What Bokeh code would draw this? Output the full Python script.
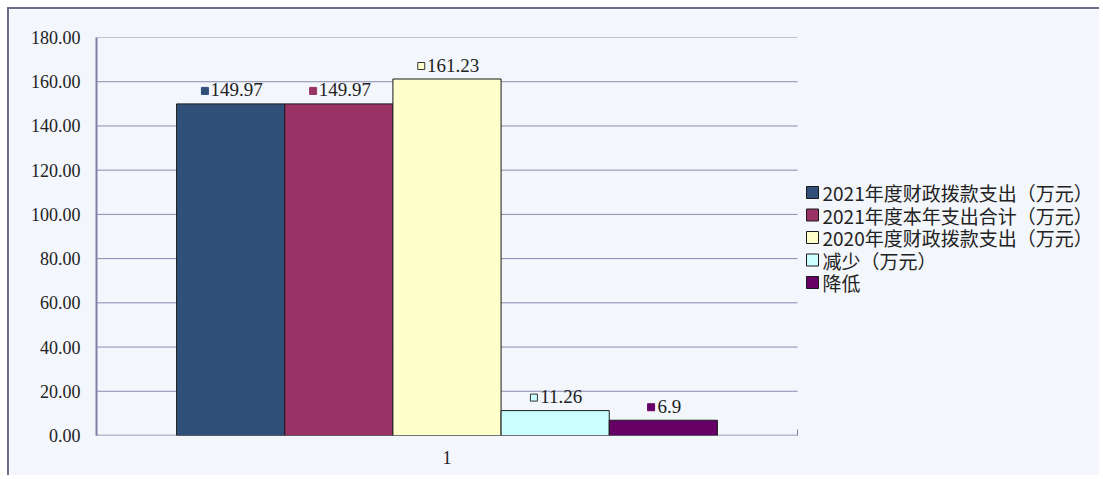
from bokeh.plotting import figure
from bokeh.models import Range1d, FixedTicker, ColumnDataSource
from bokeh.core.properties import value
from bokeh.embed import file_html
from bokeh.resources import INLINE

# ---- data ----
series = ["2021年度财政拨款支出（万元）", "2021年度本年支出合计（万元）",
          "2020年度财政拨款支出（万元）", "减少（万元）", "降低"]
values = [149.97, 149.97, 161.23, 11.26, 6.9]
value_labels = ["149.97", "149.97", "161.23", "11.26", "6.9"]
category = "1"
y_ticks = [0, 20, 40, 60, 80, 100, 120, 140, 160, 180]
y_tick_labels = ["0.00", "20.00", "40.00", "60.00", "80.00", "100.00",
                 "120.00", "140.00", "160.00", "180.00"]

# ---- styles ----
colors = ["#30507A", "#993366", "#FFFFCC", "#CCFFFF", "#660066"]
marker_lines = ["#30507A", "#993366", "#333333", "#333333", "#660066"]
BG = "#F3F6FB"
AX = "#7E7EA6"
GRID = "#8A8AB2"
W, H = 1092, 468
LEFT, TOP, BOTTOM = 87, 28, 42
CAT_W, FRAME_H = 701, 398          # pixel width of the category band, plot height
Y_MAX = 180
X_MAX = (W - LEFT) / CAT_W         # frame extends under the legend area
bar_w = 0.1543
SERIF = "Liberation Serif"
CJK = "Noto Sans CJK SC"

# legend placement (pixels from frame left / frame bottom)
LEG_SQ_X, LEG_TXT_X = 716, 726
LEG_FIRST_Y, LEG_PITCH = 243, 22.5

n = len(values)
centers = [0.5 + (i - (n - 1) / 2) * bar_w for i in range(n)]

def text_px(s):
    return sum(4.5 if c == "." else 9 for c in s)

px_y = Y_MAX / FRAME_H
marker_x = [c + (7 - text_px(t) / 2 - 8) / CAT_W for c, t in zip(centers, value_labels)]
marker_y = [v + 13 * px_y for v in values]
label_y = [v + 14 * px_y for v in values]

src = ColumnDataSource(dict(x=centers, top=values, color=colors, label=value_labels,
                            ly=label_y, mx=marker_x, my=marker_y, mline=marker_lines))

leg_y = [(LEG_FIRST_Y - i * LEG_PITCH) * px_y for i in range(len(series))]
leg_src = ColumnDataSource(dict(sx=[LEG_SQ_X / CAT_W] * len(series),
                                tx=[LEG_TXT_X / CAT_W] * len(series),
                                y=leg_y, label=series, color=colors))

p = figure(width=W, height=H, x_range=Range1d(0, X_MAX), y_range=Range1d(0, Y_MAX),
           output_backend="svg", toolbar_location=None,
           min_border_left=LEFT, min_border_right=0, min_border_top=TOP, min_border_bottom=BOTTOM,
           background_fill_color=BG, border_fill_color=BG, outline_line_color=None,
           styles={"border-left": "2px solid #6B6B8B", "border-top": "2px solid #6B6B8B",
                   "margin-left": "7px", "margin-top": "7px"})

# gridlines and category axis line, limited to the category band [0, 1]
grid_y = y_ticks[1:]
p.segment(x0=[0] * len(grid_y), x1=[1] * len(grid_y), y0=grid_y, y1=grid_y,
          line_color=GRID, line_width=1)
p.segment(x0=[0], x1=[1], y0=[0], y1=[0], line_color=AX, line_width=1.5)

bars = p.vbar(x="x", top="top", width=bar_w, source=src, fill_color="color",
              line_color="#1A1A1A", line_width=1)

p.text(x="x", y="ly", text="label", source=src, x_offset=6,
       text_align="center", text_baseline="middle",
       text_font=value(SERIF), text_font_size="19px", text_color="#222222")
p.scatter(x="mx", y="my", source=src, marker="square", size=7,
          fill_color="color", line_color="mline", line_width=1)

# legend (drawn in the area right of the category band)
p.scatter(x="sx", y="y", source=leg_src, marker="square", size=12,
          fill_color="color", line_color="#1A1A1A", line_width=1)
p.text(x="tx", y="y", text="label", source=leg_src,
       text_align="left", text_baseline="middle",
       text_font=value(CJK), text_font_size="19px", text_color="#222222")

# axes
p.yaxis.ticker = FixedTicker(ticks=y_ticks)
p.yaxis.major_label_overrides = {t: l for t, l in zip(y_ticks, y_tick_labels)}
p.yaxis.major_tick_in = 0
p.yaxis.major_tick_out = 0
p.yaxis.minor_tick_in = 0
p.yaxis.minor_tick_out = 0
p.yaxis.major_label_standoff = 16
p.yaxis.axis_line_color = AX
p.yaxis.axis_line_width = 2

p.xaxis.ticker = FixedTicker(ticks=[0.5], minor_ticks=[0, 1])
p.xaxis.major_label_overrides = {0.5: category}
p.xaxis.major_tick_in = 0
p.xaxis.major_tick_out = 0
p.xaxis.minor_tick_in = 6
p.xaxis.minor_tick_out = 0
p.xaxis.minor_tick_line_color = AX
p.xaxis.major_label_standoff = 15
p.xaxis.axis_line_color = None

for ax in (p.xaxis, p.yaxis):
    ax.major_label_text_font = SERIF
    ax.major_label_text_font_size = "18px"
    ax.major_label_text_color = "#222222"

p.xgrid.visible = False
p.ygrid.visible = False

open("out.html", "w").write(file_html(p, INLINE))
